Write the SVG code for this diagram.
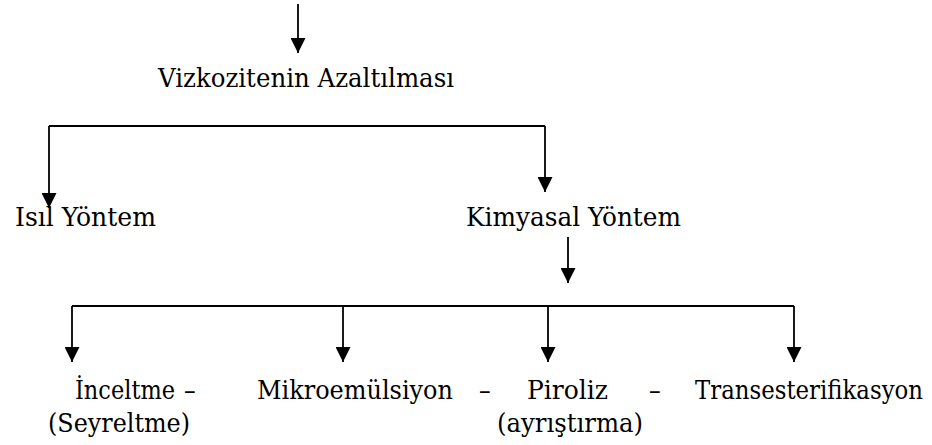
<svg xmlns="http://www.w3.org/2000/svg" width="932" height="445" viewBox="0 0 932 445">
  <style>
    .lbl { font-family: "DejaVu Serif Condensed", "DejaVu Serif", "Liberation Serif", serif; font-stretch: condensed; font-size: 26px; fill: #000; }
    .wire { fill: none; stroke: #000; stroke-width: 1.8; }
    .arr { marker-end: url(#head); }
  </style>
  <defs>
    <marker id="head" markerUnits="userSpaceOnUse" markerWidth="15" markerHeight="15" refX="15" refY="7.5" orient="auto">
      <path d="M0,0 L15,7.5 L0,15 z" fill="#000"/>
    </marker>
  </defs>
  <rect width="932" height="445" fill="#fff"/>

  <g id="connectors">
    <path class="wire arr" d="M298,4 V53"/>
    <path class="wire" d="M49,126 H545"/>
    <path class="wire arr" d="M49,126 V208"/>
    <path class="wire arr" d="M545,126 V192"/>
    <path class="wire arr" d="M568,237 V283"/>
    <path class="wire" d="M72,306 H794"/>
    <path class="wire arr" d="M72,306 V362"/>
    <path class="wire arr" d="M343,306 V362"/>
    <path class="wire arr" d="M548,306 V362"/>
    <path class="wire arr" d="M794,306 V362"/>
  </g>

  <g id="vizkozite">
    <text class="lbl" x="158" y="87" textLength="296" lengthAdjust="spacingAndGlyphs">Vizkozitenin Azaltılması</text>
  </g>
  <g id="isil">
    <text class="lbl" x="15" y="226" textLength="141" lengthAdjust="spacingAndGlyphs">Isıl Yöntem</text>
  </g>
  <g id="kimyasal">
    <text class="lbl" x="466" y="226" textLength="215" lengthAdjust="spacingAndGlyphs">Kimyasal Yöntem</text>
  </g>
  <g id="inceltme">
    <text class="lbl" x="75" y="399" textLength="100" lengthAdjust="spacingAndGlyphs">İnceltme</text>
    <text class="lbl" x="184" y="399">–</text>
    <text class="lbl" x="48" y="432" textLength="142" lengthAdjust="spacingAndGlyphs">(Seyreltme)</text>
  </g>
  <g id="mikroemulsiyon">
    <text class="lbl" x="257" y="399" textLength="196" lengthAdjust="spacingAndGlyphs">Mikroemülsiyon</text>
    <text class="lbl" x="479" y="399">–</text>
  </g>
  <g id="piroliz">
    <text class="lbl" x="527" y="399" textLength="81" lengthAdjust="spacingAndGlyphs">Piroliz</text>
    <text class="lbl" x="649" y="399">–</text>
    <text class="lbl" x="497" y="432" textLength="146" lengthAdjust="spacingAndGlyphs">(ayrıştırma)</text>
  </g>
  <g id="transesterifikasyon">
    <text class="lbl" x="695" y="399" textLength="228" lengthAdjust="spacingAndGlyphs">Transesterifikasyon</text>
  </g>
</svg>
